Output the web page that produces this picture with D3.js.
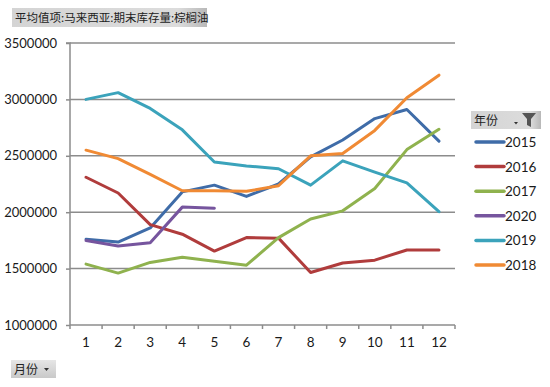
<!DOCTYPE html>
<html><head><meta charset="utf-8">
<script src="https://cdn.jsdelivr.net/npm/d3@7"></script>
<style>
body{margin:0;background:#fff;}
svg{display:block;}
</style></head>
<body><svg id="c" width="550" height="387"></svg>
<script>
const months = [1,2,3,4,5,6,7,8,9,10,11,12];
const seriesNames = ["2015","2016","2017","2020","2019","2018"];
const s2015 = [1760000,1735000,1860000,2180000,2240000,2140000,2250000,2490000,2640000,2830000,2910000,2630000];
const s2016 = [2310000,2170000,1890000,1805000,1655000,1775000,1770000,1465000,1550000,1575000,1665000,1665000];
const s2017 = [1540000,1460000,1555000,1600000,1565000,1530000,1775000,1940000,2012000,2210000,2555000,2735000];
const s2020 = [1750000,1700000,1730000,2045000,2035000];
const s2019 = [3000000,3060000,2920000,2730000,2445000,2410000,2385000,2240000,2455000,2355000,2260000,2005000];
const s2018 = [2550000,2475000,2335000,2190000,2190000,2185000,2235000,2500000,2520000,2725000,3015000,3215000];
const yTicks = [1000000,1500000,2000000,2500000,3000000,3500000];
const colors = ["#3F6CA8","#B03C3C","#8FB24E","#76559E","#3BA3BB","#F08A34"];
const title = "平均值项:马来西亚:期末库存量:棕榈油";
const legendTitle = "年份";
const axisButton = "月份";

const data = [s2015,s2016,s2017,s2020,s2019,s2018];
const svg = d3.select("#c");
const L=70,R=455,T=43,B=325;
const x = d3.scaleBand().domain(months).range([L,R]);
const y = d3.scaleLinear().domain([1000000,3500000]).range([B,T]);
const numFont = "Lato, 'Liberation Sans', sans-serif";
const cjkFont = "'Noto Sans CJK SC', sans-serif";

const defs = svg.append("defs");
const g1 = defs.append("linearGradient").attr("id","btn").attr("x1",0).attr("y1",0).attr("x2",0).attr("y2",1);
g1.append("stop").attr("offset","0%").attr("stop-color","#e6e6e6");
g1.append("stop").attr("offset","100%").attr("stop-color","#c9c9c9");
const g2 = defs.append("linearGradient").attr("id","btnh").attr("x1",0).attr("y1",0).attr("x2",1).attr("y2",0);
g2.append("stop").attr("offset","0%").attr("stop-color","#d4d4d4");
g2.append("stop").attr("offset","85%").attr("stop-color","#dcdcdc");
g2.append("stop").attr("offset","100%").attr("stop-color","#b8b8b8");

// title button
svg.append("rect").attr("x",12).attr("y",8).attr("width",195).attr("height",19).attr("fill","url(#btnh)");
svg.append("text").attr("x",15).attr("y",22).attr("font-family",cjkFont).attr("font-size",11.5).attr("fill","#222").text(title);

// gridlines
svg.append("g").selectAll("line").data(yTicks.filter(d=>d>1000000)).join("line")
  .attr("x1",L).attr("x2",R).attr("y1",d=>y(d)).attr("y2",d=>y(d))
  .attr("stroke","#8c8c8c").attr("stroke-width",1.5);

// y axis
const yAxis = d3.axisLeft(y).tickValues(yTicks).tickFormat(d3.format("d")).tickSize(4).tickPadding(9);
const ya = svg.append("g").attr("transform",`translate(${L},0)`).call(yAxis);
ya.select(".domain").attr("stroke","#8c8c8c").attr("stroke-width",1.5).attr("d",`M-4,${T}H0V${B}`);
ya.selectAll(".tick line").attr("stroke","#8c8c8c").attr("stroke-width",1.5);
ya.selectAll("text").attr("font-family",numFont).attr("font-size",13).attr("fill","#1a1a1a");

// x axis
const xa = svg.append("g").attr("transform",`translate(0,${B})`).call(d3.axisBottom(x).tickSize(0).tickPadding(12));
xa.select(".domain").attr("stroke","#8c8c8c").attr("stroke-width",1.5).attr("d",`M${L},0H${R}`);
xa.selectAll("text").attr("font-family",numFont).attr("font-size",13.5).attr("fill","#1a1a1a");
const bounds = months.map(m=>x(m)).concat([R]);
svg.append("g").selectAll("line").data(bounds).join("line")
  .attr("x1",d=>d).attr("x2",d=>d).attr("y1",B).attr("y2",B+4)
  .attr("stroke","#8c8c8c").attr("stroke-width",1.5);

// lines
const line = d3.line().x((d,i)=>x(months[i])+x.bandwidth()/2).y(d=>y(d));
data.forEach((s,k)=>{
  svg.append("path").datum(s).attr("d",line).attr("fill","none")
    .attr("stroke",colors[k]).attr("stroke-width",3).attr("stroke-linejoin","round").attr("stroke-linecap","round");
});

// legend header
svg.append("rect").attr("x",471).attr("y",111).attr("width",70).attr("height",18).attr("fill","url(#btnh)");
svg.append("text").attr("x",474).attr("y",125).attr("font-family",cjkFont).attr("font-size",12).attr("fill","#222").text(legendTitle);
svg.append("path").attr("d","M514,122h4l-2,2.5z").attr("fill","#333");
svg.append("path").attr("d","M522,113h14l-5,6v8l-4,-2v-6z").attr("fill","#555");

const lg = svg.append("g").selectAll("g").data(seriesNames).join("g")
  .attr("transform",(d,i)=>`translate(0,${142+i*24.6})`);
lg.append("line").attr("x1",476).attr("x2",504).attr("y1",0).attr("y2",0)
  .attr("stroke",(d,i)=>colors[i]).attr("stroke-width",3.5).attr("stroke-linecap","round");
lg.append("text").attr("x",505).attr("y",5).attr("font-family",numFont).attr("font-size",13.5).attr("fill","#1a1a1a").text(d=>d);

// month button
svg.append("rect").attr("x",11).attr("y",360).attr("width",45).attr("height",18).attr("fill","url(#btn)");
svg.append("text").attr("x",14).attr("y",374).attr("font-family",cjkFont).attr("font-size",12).attr("fill","#222").text(axisButton);
svg.append("path").attr("d","M44,368h5l-2.5,3z").attr("fill","#333");
</script></body></html>
